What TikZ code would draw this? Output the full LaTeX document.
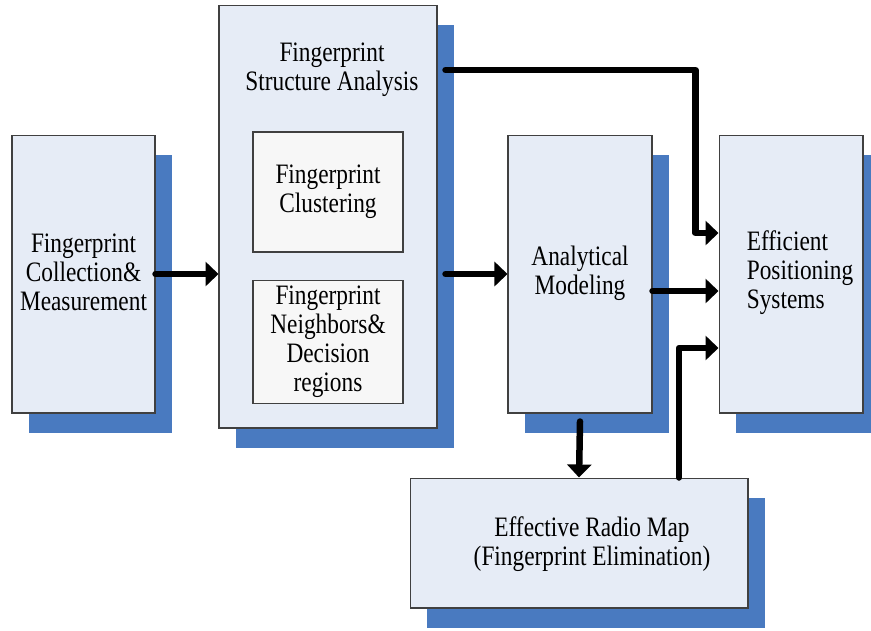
\documentclass[tikz,border=0pt]{standalone}
\usepackage{fontspec}
\setmainfont{Liberation Serif}[FakeStretch=0.83]
\usetikzlibrary{arrows.meta,shadows}

\definecolor{boxfill}{RGB}{230,236,246}
\definecolor{innerfill}{RGB}{247,247,247}
\definecolor{shadowblue}{RGB}{73,122,192}

\tikzset{
  block/.style={draw=black!75, line width=0.6pt, fill=boxfill, align=center,
    general shadow={fill=shadowblue, shadow xshift=0.34cm, shadow yshift=-0.4cm}},
  subblock/.style={draw=black!75, line width=0.6pt, fill=innerfill, align=center,
    minimum width=3cm, minimum height=2.4cm},
  caption/.style={align=center},
  flow/.style={line width=3.7pt, line cap=round, line join=round,
    -{Triangle[length=0.26cm,width=0.48cm]}}
}

\begin{document}
\begin{tikzpicture}[x=0.02cm, y=-0.02cm, font=\fontsize{16}{16.5}\selectfont]
\useasboundingbox (0,0) rectangle (871,630);

% blocks
\node[block, minimum width=2.86cm, minimum height=5.56cm] (coll) at (83.5,274) {};
\node[caption] (ctext) at (83.5,272) {Fingerprint\\Collection\&\\Measurement};
\node[block, minimum width=4.36cm, minimum height=8.46cm] (struct) at (328,216.5) {};
\node[caption] (stitle) at (332,70) {Fingerprint\\Structure Analysis};
\node[subblock] (clust) at (328,192) {Fingerprint\\Clustering};
\node[subblock] (neigh) at (328,342) {Fingerprint\\Neighbors\&\\Decision\\regions};
\node[block, minimum width=2.88cm, minimum height=5.56cm] (anal) at (580,274) {};
\node[caption] (atext) at (580,273) {Analytical\\Modeling};
\node[block, minimum width=2.88cm, minimum height=5.56cm] (eff) at (791,274) {};
\node[align=left] (etext) at (800,273) {Efficient\\Positioning\\Systems};
\node[block, minimum width=6.76cm, minimum height=2.6cm] (radio) at (579,543) {};
\node[caption] (rtext) at (592,544) {Effective Radio Map\\(Fingerprint Elimination)};

% connectors
\draw[flow] (coll.east) -- (coll.east -| struct.west);
\draw[flow] ([xshift=0.16cm]anal.west -| struct.east) -- (anal.west);
\draw[flow] ([xshift=0.16cm]struct.east |- stitle) -| ([xshift=-0.46cm,yshift=0.82cm]eff.west)
  -- ([yshift=0.82cm]eff.west);
\draw[flow] ([yshift=-0.34cm]anal.east) -- ([yshift=-0.34cm]eff.west);
\draw[flow] ([yshift=-0.16cm]anal.south) -- (radio.north);
\draw[flow] ([xshift=2cm]radio.north) |- ([yshift=-1.48cm]eff.west);
\end{tikzpicture}
\end{document}
